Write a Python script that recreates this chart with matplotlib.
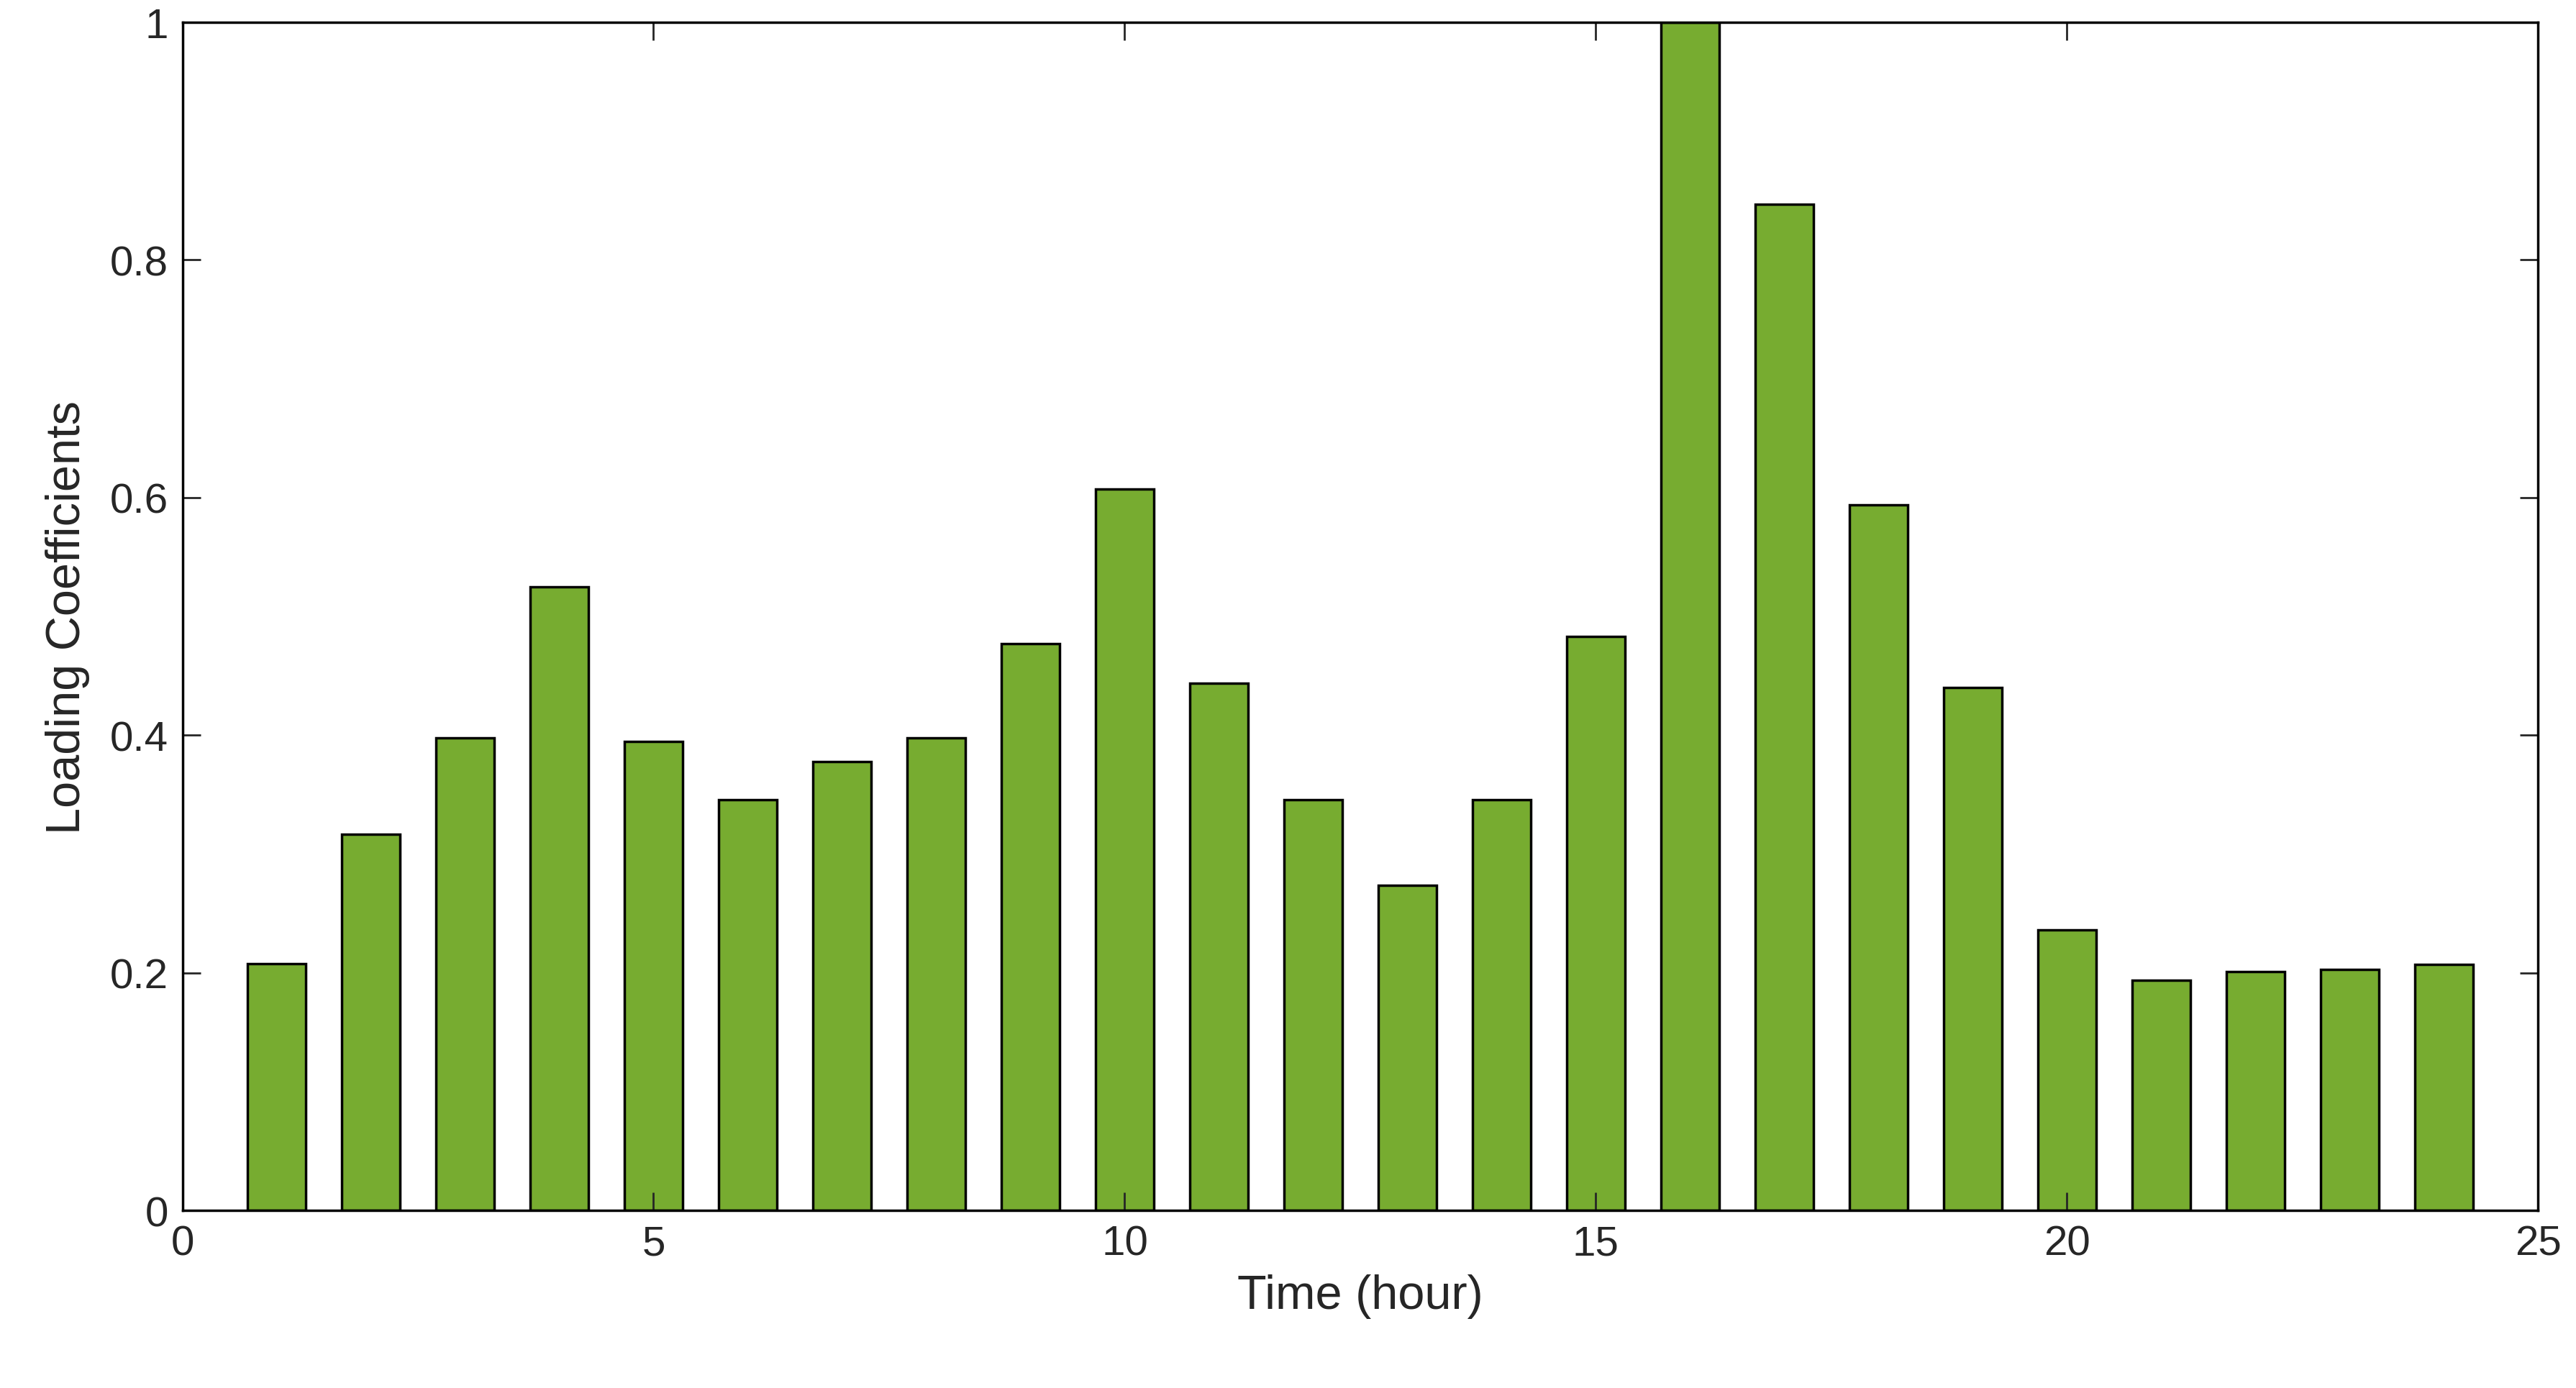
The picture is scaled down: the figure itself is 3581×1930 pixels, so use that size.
import matplotlib
matplotlib.use("Agg")
import matplotlib.pyplot as plt

hours = list(range(1, 25))
loading = [0.208, 0.317, 0.398, 0.525, 0.395, 0.346, 0.378, 0.398, 0.477, 0.607,
           0.444, 0.346, 0.274, 0.346, 0.483, 1.0, 0.847, 0.594, 0.440, 0.236,
           0.194, 0.201, 0.203, 0.207]

plt.rcParams["font.family"] = ["Liberation Sans", "DejaVu Sans"]
fig = plt.figure(figsize=(35.81, 19.31), dpi=100)
ax = fig.add_axes([0.0708, 0.1277, 0.9145, 0.8558])
ax.bar(hours, loading, width=0.62, color="#77AC30", edgecolor="black", linewidth=2.5)
ax.set_xlim(0, 25)
ax.set_ylim(0, 1)
ax.set_xticks([0, 5, 10, 15, 20, 25])
ax.set_yticks([0, 0.2, 0.4, 0.6, 0.8, 1])
ax.set_yticklabels(["0", "0.2", "0.4", "0.6", "0.8", "1"])
ax.tick_params(direction="in", top=True, right=True, length=18, width=2,
               labelsize=42, pad=14, colors="#262626")
for s in ax.spines.values():
    s.set_linewidth(2.5)
ax.set_xlabel("Time (hour)", fontsize=48, color="#262626", labelpad=10)
ax.set_ylabel("Loading Coefficients", fontsize=48, color="#262626", labelpad=20)
fig.savefig("out.png", dpi=100)
